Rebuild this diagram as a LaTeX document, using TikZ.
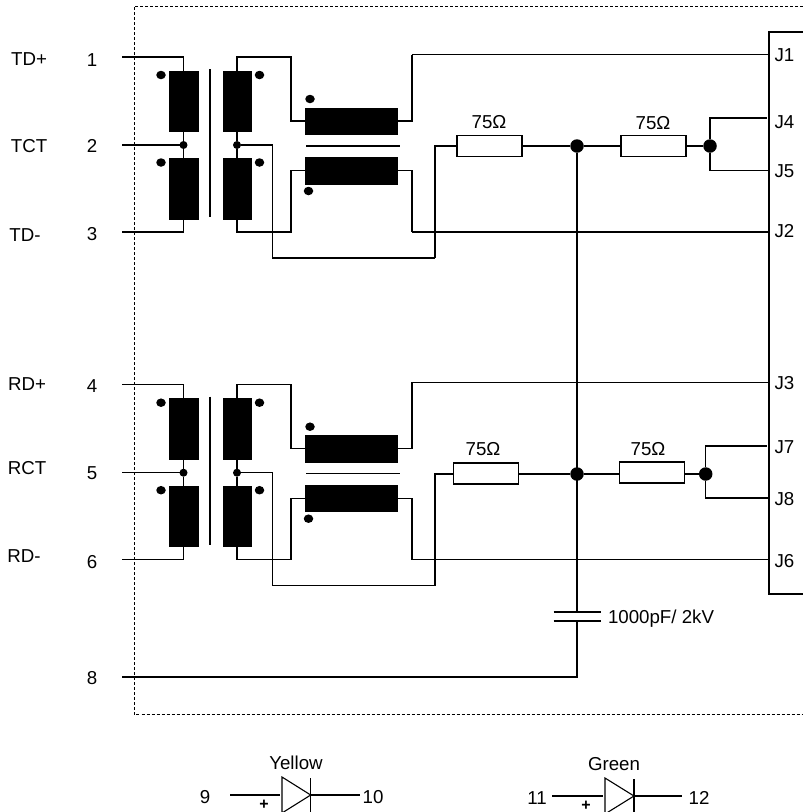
\documentclass[tikz,border=0pt]{standalone}
\usepackage{fontspec}
\setmainfont{Liberation Sans}
\usetikzlibrary{shapes.geometric}
\tikzset{
  wire/.style={line width=1.1pt,line join=miter},
  coilv/.style={draw=black,fill=black,line width=0.5pt,minimum width=28.5pt,minimum height=60.5pt,inner sep=0pt,outer sep=0pt},
  coilh/.style={draw=black,fill=black,line width=0.5pt,minimum width=92pt,minimum height=26.5pt,inner sep=0pt,outer sep=0pt},
  resbox/.style={draw=black,fill=white,line width=1.1pt,minimum width=65pt,minimum height=21pt,inner sep=0pt,outer sep=0pt},
  jdot/.style={circle,fill=black,minimum size=8pt,inner sep=0pt,outer sep=0pt},
  bigdot/.style={circle,fill=black,minimum size=13.5pt,inner sep=0pt,outer sep=0pt},
  phase/.style={ellipse,fill=black,minimum width=9.5pt,minimum height=8.5pt,inner sep=0pt,outer sep=0pt},
  txt/.style={inner sep=0pt,outer sep=0pt,font=\fontsize{18.7}{22}\selectfont},
  plus/.style={inner sep=0pt,outer sep=0pt,font=\fontsize{16}{16}\selectfont\bfseries},
}
\newcommand{\xfmrblock}[2]{%
 \begin{scope}[shift={(0,#2)}]
  \coordinate (#1p1) at (122,57);
  \coordinate (#1p2) at (122,145);
  \coordinate (#1p3) at (122,232);
  \coordinate (#1top) at (412,54.5);
  \coordinate (#1bot) at (412,232);
  \coordinate (#1kx) at (291,57);
  \coordinate (#1ky) at (291,232);
  \coordinate (#1t1) at (272.5,145);
  \coordinate (#1t2) at (272.5,258);
  \coordinate (#1t3) at (435,258);
  \node[coilv] (#1A) at (183.5,101) {};
  \node[coilv] (#1B) at (183.5,188.5) {};
  \node[coilv] (#1C) at (237,101) {};
  \node[coilv] (#1D) at (237,188.5) {};
  \node[coilh] (#1E) at (351.5,121) {};
  \node[coilh] (#1F) at (351.5,170.5) {};
  \node[jdot] (#1j1) at (183.5,145) {};
  \node[jdot] (#1j2) at (237,145) {};
  \node[phase] (#1d1) at (161,75) {};
  \node[phase] (#1d2) at (259.5,75) {};
  \node[phase] (#1d3) at (161,162.5) {};
  \node[phase] (#1d4) at (259.5,162.5) {};
  \node[phase] (#1d5) at (310,99) {};
  \node[phase] (#1d6) at (308.5,191) {};
  \draw[wire] (#1p1) -| (#1A.north);
  \draw[wire] (#1A.south) -- (#1j1) -- (#1B.north);
  \draw[wire] (#1p2) -- (#1j1);
  \draw[wire] (#1p3) -| (#1B.south);
  \draw[wire] (#1C.north) |- (#1kx) |- (#1E.west);
  \draw[wire] (#1C.south) -- (#1j2) -- (#1D.north);
  \draw[wire] (#1D.south) |- (#1ky) |- (#1F.west);
  \draw[wire] (#1E.east) -| (#1top);
  \draw[wire] (#1F.east) -| (#1bot);
  \draw[wire] (#1j2) -- (#1t1) -- (#1t2) -- (#1t3);
  \draw[wire] (210,69) -- (210,217);
  \draw[wire] (306,146) -- (400,146);
 \end{scope}}
\begin{document}
\begin{tikzpicture}[x=1pt,y=-1pt]
\useasboundingbox (0,0) rectangle (803,812);
\clip (0,0) rectangle (803,812);
\fill[white] (0,0) rectangle (803,812);
% outline
\draw[line width=0.8pt,dash pattern=on 3pt off 2pt] (803,6) -| (134,714.5) -- (803,714.5);
\draw[wire] (803,32) -| (769,594) -- (803,594);
% transformer blocks
\xfmrblock{u}{0}
\xfmrblock{l}{327.7}
% right-hand wiring
\coordinate (cJ1) at (769,54.5);
\coordinate (cJ4) at (767,118);
\coordinate (cJ5) at (769,170.5);
\coordinate (cJ2) at (769,232);
\coordinate (cJ3) at (769,382.2);
\coordinate (cJ7) at (767,446);
\coordinate (cJ8) at (769,498);
\coordinate (cJ6) at (769,559.7);
\coordinate (pin8) at (122,677);
\draw[wire] (utop) -- (cJ1);
\draw[wire] (ltop) -- (cJ3);
\draw[wire] (ubot) -- (cJ2);
\draw[wire] (lbot) -- (cJ6);
\node[resbox] (r1) at (489.5,146) {};
\node[resbox] (r2) at (653.5,146) {};
\node[resbox] (r3) at (486,473.5) {};
\node[resbox] (r4) at (652,472.5) {};
\node[bigdot] (n1) at (577,146) {};
\node[bigdot] (n2) at (710,146) {};
\node[bigdot] (n3) at (577,474) {};
\node[bigdot] (n4) at (705.7,474) {};
\draw[wire] (ut3) |- (r1.west);
\draw[wire] (lt3) -- (435,474) -- (r3.west |- n3);
\draw[wire] (r1.east) -- (n1) -- (r2.west);
\draw[wire] (r2.east) -- (n2);
\draw[wire] (r3.east |- n3) -- (n3) -- (r4.west |- n3);
\draw[wire] (r4.east |- n3) -- (n4);
\draw[wire] (n2) |- (cJ4);
\draw[wire] (n2) |- (cJ5);
\draw[wire] (n4) |- (cJ7);
\draw[wire] (n4) |- (cJ8);
% capacitor
\coordinate (capa) at (577,612);
\coordinate (capb) at (577,621);
\draw[wire] (n1) -- (capa);
\draw[wire] (capb) |- (pin8);
\draw[wire] (553.7,612) -- (601,612);
\draw[wire] (553.7,621) -- (601,621);
% labels
\foreach \t/\x/\y/\n in {TD+/29/59/a,TCT/29/146/b,TD-/25/235/c,RD+/27/384/d,RCT/27/468/e,RD-/24/556/f,
  1/92/60/g,2/92/146/h,3/92/234/i,4/92/386/j,5/92/473/k,6/92/562/l,8/92/678/m}
  \node[txt] (lab\n) at (\x,\y) {\t};
\foreach \t/\y in {J1/55,J4/122,J5/171,J2/231,J3/383,J7/447,J8/499,J6/561}
  \node[txt,anchor=west] (lab\t) at (774.5,\y) {\t};
\node[txt] (o1) at (489,122) {75Ω};
\node[txt] (o2) at (653,123) {75Ω};
\node[txt] (o3) at (483,449) {75Ω};
\node[txt] (o4) at (648,449) {75Ω};
\node[txt,anchor=west] (capl) at (608,619) {1000pF/ 2kV};
% diodes
\node[txt] (yl) at (296,762.5) {Yellow};
\node[txt] (gl) at (614,764) {Green};
\node[txt] (p9) at (205,797) {9};
\node[txt] (p10) at (373,797) {10};
\node[txt] (p11) at (537,798) {11};
\node[txt] (p12) at (699,798) {12};
\node[plus] (pl1) at (264,804.5) {+};
\node[plus] (pl2) at (586,805.5) {+};
\coordinate (d1a) at (282,795);
\coordinate (d1k) at (310.7,795);
\coordinate (d2a) at (605,796);
\coordinate (d2k) at (634,796);
\draw[wire] (230,795) -- (280,795);
\draw[wire] (282,777) -- (d1k) -- (282,813) -- cycle;
\draw[wire] (310.7,778) -- (310.7,813);
\draw[wire] (d1k) -- (360,795);
\draw[wire] (552,796) -- (603,796);
\draw[wire] (605,778) -- (d2k) -- (605,814) -- cycle;
\draw[wire] (634,779) -- (634,813);
\draw[wire] (d2k) -- (682,796);
\end{tikzpicture}
\end{document}
